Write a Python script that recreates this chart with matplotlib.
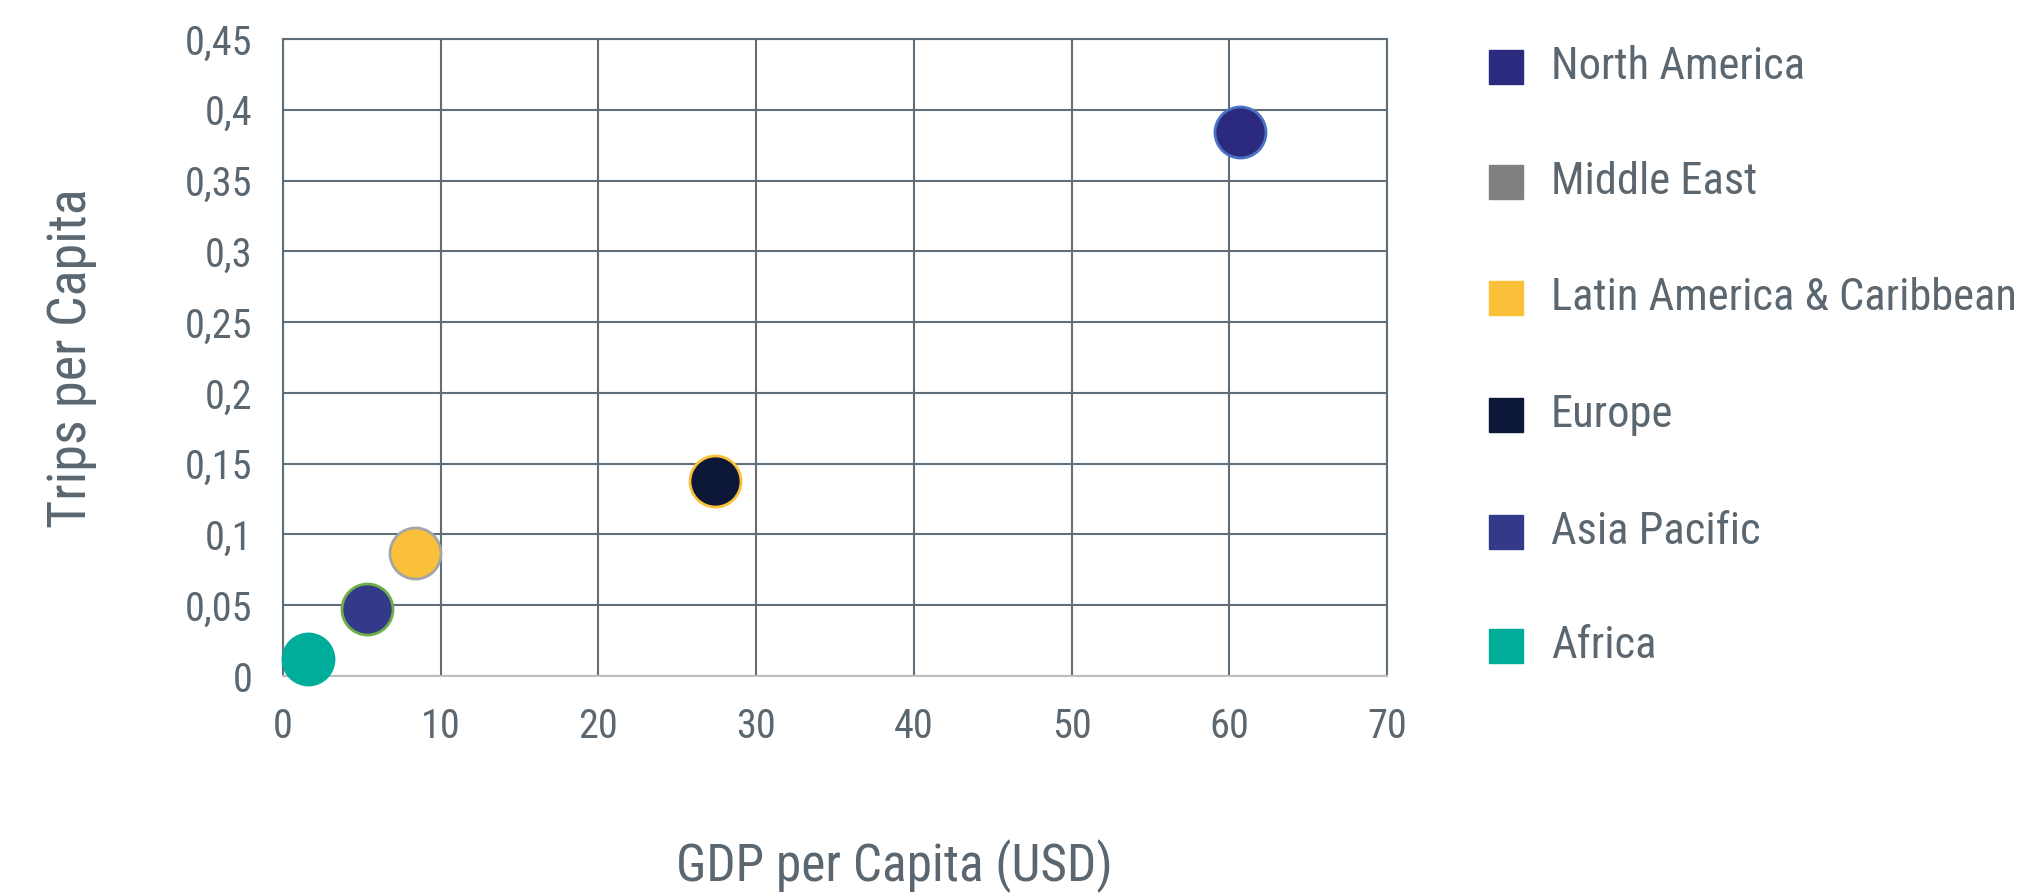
import matplotlib
matplotlib.use("Agg")
import matplotlib.pyplot as plt
from matplotlib import font_manager
from matplotlib.patches import Rectangle
from matplotlib.ticker import FuncFormatter, MultipleLocator

# data
regions = ["North America", "Middle East", "Latin America & Caribbean",
           "Europe", "Asia Pacific", "Africa"]
gdp = [60.7, None, 8.4, 27.4, 5.3, 1.6]
trips = [0.384, None, 0.087, 0.138, 0.047, 0.012]
colors = ["#2B2A7E", "#808080", "#FBC03A", "#0D1738", "#343A8A", "#00AC9A"]
edges = ["#4A72C4", "#808080", "#A5A5A5", "#FBC03A", "#70AD47", "#00AC9A"]

TEXT = "#5B6770"
GRID = "#5F6E78"

# pick a narrow font if one is installed
names = {f.name for f in font_manager.fontManager.ttflist}
font = "DejaVu Sans"
for cand in ["Liberation Sans Narrow", "Roboto Condensed", "Open Sans Condensed",
             "Noto Sans Condensed", "DejaVu Sans Condensed"]:
    if cand in names:
        font = cand
        break
plt.rcParams["font.family"] = [font, "DejaVu Sans"]
plt.rcParams["font.stretch"] = "condensed"

fig = plt.figure(figsize=(20.33, 8.96), dpi=100)
ax = fig.add_axes([0.1392, 0.2455, 0.543, 0.711])

for x, y, c, e in zip(gdp, trips, colors, edges):
    if x is None:
        continue
    ax.scatter(x, y, s=1350, color=c, edgecolors=e, linewidths=2, zorder=3,
               clip_on=False)

ax.set_xlim(0, 70)
ax.set_ylim(0, 0.45)
ax.xaxis.set_major_locator(MultipleLocator(10))
ax.yaxis.set_major_locator(MultipleLocator(0.05))
ax.yaxis.set_major_formatter(FuncFormatter(lambda v, p: f"{round(v, 2):g}".replace(".", ",")))
ax.grid(True, color=GRID, lw=1.5)
ax.set_axisbelow(True)
for s in ["top", "left", "right"]:
    ax.spines[s].set_color(GRID)
    ax.spines[s].set_linewidth(1.5)
ax.spines["bottom"].set_color("#BFBFBF")
ax.spines["bottom"].set_linewidth(1.5)
ax.tick_params(length=0, labelsize=29, labelcolor=TEXT)
ax.tick_params(axis="y", pad=22)
ax.tick_params(axis="x", pad=22)

fig.text(0.035, 0.6, "Trips per Capita", rotation=90, ha="center", va="center",
         fontsize=39, color=TEXT)
fig.text(0.44, 0.033, "GDP per Capita (USD)", ha="center", va="center",
         fontsize=37, color=TEXT)

# legend drawn by hand to keep the wide row spacing
ys = [67, 182, 298, 415, 532, 646]
for name, c, yp in zip(regions, colors, ys):
    yf = 1 - yp / 896
    fig.patches.append(Rectangle((1489 / 2033, yf - 17 / 896), 34 / 2033, 34 / 896,
                                 transform=fig.transFigure, color=c))
    fig.text(1551 / 2033, yf, name, ha="left", va="center", fontsize=32, color=TEXT)

fig.savefig("out.png", dpi=100)
